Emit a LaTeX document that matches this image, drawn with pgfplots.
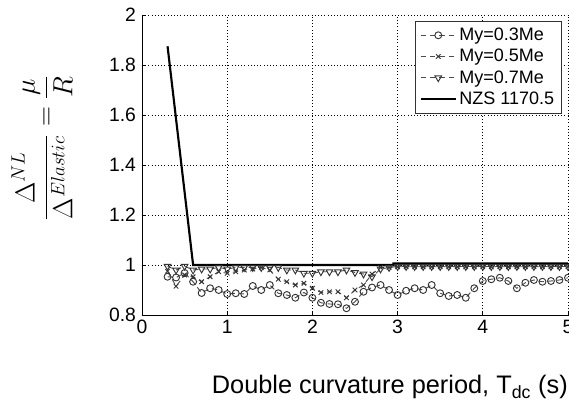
\documentclass[border=0pt]{standalone}
\usepackage{amsmath}
\usepackage{pgfplots}
\pgfplotsset{compat=1.18}
\usepackage{fontspec}
\setmainfont{Liberation Sans}
\definecolor{sergray}{gray}{0.3}
\definecolor{markgray}{gray}{0.2}
\begin{document}
\begin{tikzpicture}
\begin{axis}[
  scale only axis,
  width=319.5pt, height=225pt,
  xmin=0, xmax=5, ymin=0.8, ymax=2,
  xtick={0,1,2,3,4,5},
  ytick={0.8,1,1.2,1.4,1.6,1.8,2},
  axis lines=left,
  axis line style={-, black, line width=0.6pt},
  tick align=inside,
  major tick length=3pt,
  tick style={black, line width=0.5pt},
  grid=major,
  major grid style={black, dotted, line width=0.5pt},
  /pgf/number format/assume math mode=true,
  ticklabel style={font=\fontsize{14.5}{17}\selectfont},
  xticklabel style={yshift=-0.5pt},
  yticklabel style={xshift=-1pt},
  xlabel={Double curvature period, T$_{\mathrm{dc}}$ (s)},
  xlabel style={font=\fontsize{19}{22}\selectfont, at={(axis description cs:0.153,0)}, anchor=west, yshift=-54pt},
  ylabel={$\dfrac{\Delta^{NL}}{\Delta^{Elastic}}=\dfrac{\mu}{R}$},
  ylabel style={font=\fontsize{21}{25}\selectfont, at={(axis description cs:-0.235,0.557)}, anchor=center, rotate=0},
  legend style={at={(axis description cs:0.984,0.98)}, anchor=north east,
    draw=black!80, line width=0.5pt, fill=white,
    font=\fontsize{13.5}{16}\selectfont, row sep=1pt, inner sep=3pt},
  legend cell align=left,
  legend image code/.code={\draw[mark repeat=2,mark phase=2] plot coordinates {(0cm,0cm) (0.46cm,0cm) (0.92cm,0cm)};},
]
% My=0.3Me
\addplot[sergray, dash pattern=on 4pt off 3pt, line width=0.7pt, mark=o, mark size=2.6pt, mark options={solid, markgray}] coordinates {
(0.3,0.953) (0.4,0.950) (0.5,0.968) (0.6,0.933) (0.7,0.888) (0.8,0.907) (0.9,0.900)
(1.0,0.884) (1.1,0.887) (1.2,0.884) (1.3,0.916) (1.4,0.900) (1.5,0.920) (1.6,0.887)
(1.7,0.880) (1.8,0.869) (1.9,0.890) (2.0,0.869) (2.1,0.849) (2.2,0.844) (2.3,0.843)
(2.4,0.827) (2.5,0.853) (2.6,0.893) (2.7,0.910) (2.8,0.920) (2.9,0.900) (3.0,0.880)
(3.1,0.897) (3.2,0.907) (3.3,0.900) (3.4,0.920) (3.5,0.887) (3.6,0.876) (3.7,0.880)
(3.8,0.869) (3.9,0.907) (4.0,0.936) (4.1,0.943) (4.2,0.949) (4.3,0.936) (4.4,0.907)
(4.5,0.929) (4.6,0.940) (4.7,0.933) (4.8,0.936) (4.9,0.940) (5.0,0.949)
};
\addlegendentry{My=0.3Me}
% My=0.5Me
\addplot[sergray, dash pattern=on 4pt off 3pt, line width=0.7pt, mark=x, mark size=2.4pt, mark options={solid, markgray}] coordinates {
(0.3,0.975) (0.4,0.915) (0.5,0.960) (0.6,0.953) (0.7,0.933) (0.8,0.953) (0.9,0.973)
(1.0,0.967) (1.1,0.973) (1.2,0.980) (1.3,0.984) (1.4,0.990) (1.5,0.980) (1.6,0.943)
(1.7,0.933) (1.8,0.920) (1.9,0.927) (2.0,0.907) (2.1,0.890) (2.2,0.893) (2.3,0.893)
(2.4,0.869) (2.5,0.900) (2.6,0.920) (2.7,0.964) (2.8,0.990) (2.9,0.990) (3.0,0.993)
(3.1,0.993) (3.2,0.993) (3.3,0.993) (3.4,0.993) (3.5,0.993) (3.6,0.993) (3.7,0.993)
(3.8,0.993) (3.9,0.993) (4.0,0.993) (4.1,0.993) (4.2,0.993) (4.3,0.993) (4.4,0.993)
(4.5,0.993) (4.6,0.993) (4.7,0.993) (4.8,0.993) (4.9,0.993) (5.0,0.993)
};
\addlegendentry{My=0.5Me}
% My=0.7Me
\addplot[sergray, dash pattern=on 4pt off 3pt, line width=0.7pt, mark=triangle, mark size=2.9pt, mark options={solid, rotate=180, markgray}] coordinates {
(0.3,0.995) (0.4,0.980) (0.5,0.995) (0.6,0.980) (0.7,0.984) (0.8,0.984) (0.9,0.990)
(1.0,0.984) (1.1,0.990) (1.2,0.990) (1.3,0.990) (1.4,0.990) (1.5,0.990) (1.6,0.990)
(1.7,0.980) (1.8,0.980) (1.9,0.967) (2.0,0.967) (2.1,0.973) (2.2,0.973) (2.3,0.973)
(2.4,0.980) (2.5,0.970) (2.6,0.964) (2.7,0.953) (2.8,0.984) (2.9,0.990) (3.0,0.994)
(3.1,0.994) (3.2,0.994) (3.3,0.994) (3.4,0.994) (3.5,0.994) (3.6,0.994) (3.7,0.994)
(3.8,0.994) (3.9,0.994) (4.0,0.994) (4.1,0.994) (4.2,0.994) (4.3,0.994) (4.4,0.994)
(4.5,0.994) (4.6,0.994) (4.7,0.994) (4.8,0.994) (4.9,0.994) (5.0,0.994)
};
\addlegendentry{My=0.7Me}
% NZS 1170.5
\addplot[black, line width=1.6pt, no marks] coordinates {
(0.3,1.875) (0.6,1.0) (2.95,1.0) (2.95,1.006) (5.0,1.006)
};
\addlegendentry{NZS 1170.5}
\end{axis}
\pgfresetboundingbox
\path[use as bounding box] (-106.5pt,-69pt) rectangle (320.25pt,236.25pt);
\end{tikzpicture}
\end{document}
